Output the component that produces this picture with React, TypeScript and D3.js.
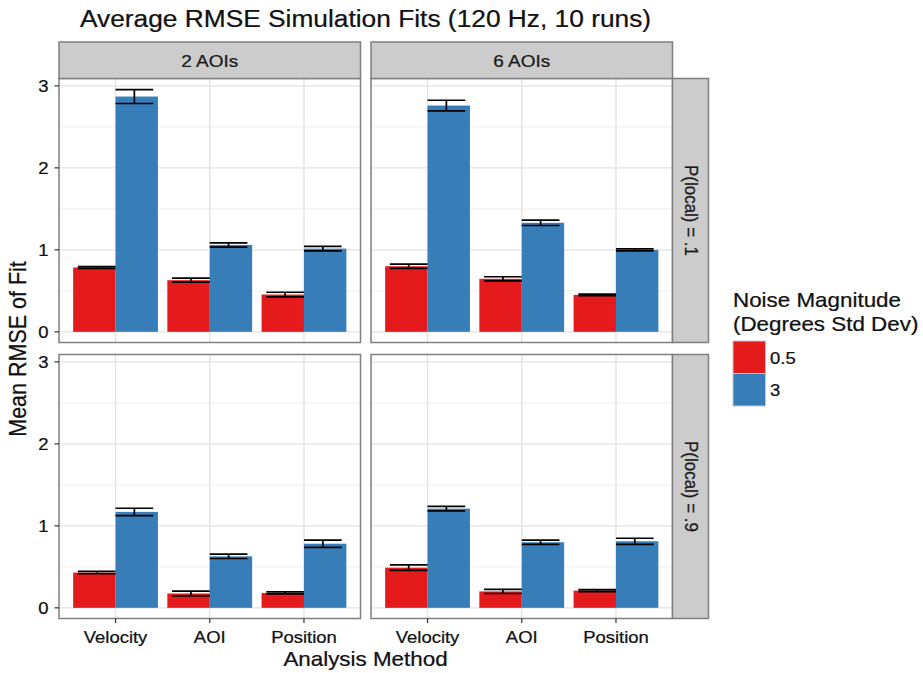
import React, { useEffect, useRef } from 'react';
import * as d3 from 'd3';

// categories / facets
const methods: string[] = ['Velocity', 'AOI', 'Position'];
const noiseLevels: string[] = ['0.5', '3'];
const aoiFacets: string[] = ['2 AOIs', '6 AOIs'];
const pLocalFacets: string[] = ['P(local) = .1', 'P(local) = .9'];
const yTicks: number[] = [0, 1, 2, 3];
const yMinor: number[] = [0.5, 1.5, 2.5];

// mean RMSE, order = methods; "low" = 0.5 deg noise, "high" = 3 deg noise
const p1Aoi2Low = [0.785, 0.63, 0.455];
const p1Aoi2High = [2.87, 1.06, 1.015];
const p1Aoi6Low = [0.8, 0.647, 0.45];
const p1Aoi6High = [2.76, 1.33, 1.0];
const p9Aoi2Low = [0.43, 0.175, 0.182];
const p9Aoi2High = [1.17, 0.628, 0.782];
const p9Aoi6Low = [0.49, 0.2, 0.21];
const p9Aoi6High = [1.21, 0.8, 0.812];

// standard errors (half height of the error bars)
const p1Aoi2LowSe = [0.012, 0.024, 0.028];
const p1Aoi2HighSe = [0.085, 0.026, 0.027];
const p1Aoi6LowSe = [0.027, 0.025, 0.01];
const p1Aoi6HighSe = [0.065, 0.033, 0.012];
const p9Aoi2LowSe = [0.014, 0.028, 0.012];
const p9Aoi2HighSe = [0.045, 0.026, 0.045];
const p9Aoi6LowSe = [0.033, 0.025, 0.013];
const p9Aoi6HighSe = [0.028, 0.025, 0.037];

const colors: string[] = ['#E41A1C', '#377EB8'];
const FONT = '"Liberation Sans", Arial, Helvetica, sans-serif';
const SX = 1.12; // the original picture is a bit wider than tall

const App: React.FC = () => {
  const chartRef = useRef<SVGSVGElement | null>(null);

  useEffect(() => {
    if (!chartRef.current) return;
    document.body.style.margin = '0';

    const svg = d3.select(chartRef.current);
    svg.selectAll('*').remove();
    svg.append('rect').attr('width', 923).attr('height', 673).attr('fill', '#fff');

    const text = (
      x: number,
      y: number,
      str: string,
      size: number,
      anchor = 'middle',
      rot = 0,
      color = '#111'
    ) => {
      const t =
        rot === 0
          ? `translate(${x},${y}) scale(${SX},1)`
          : `translate(${x},${y}) rotate(${rot}) scale(1,${SX})`;
      return svg
        .append('text')
        .attr('transform', t)
        .attr('text-anchor', anchor)
        .attr('font-family', FONT)
        .attr('font-size', size)
        .attr('fill', color)
        .attr('stroke', color)
        .attr('stroke-width', 0.25)
        .text(str);
    };

    const panelLeft = [59, 371];
    const panelW = 301.5;
    const panelTop = [78.5, 354.5];
    const panelH = 264;

    const panels = [
      { row: 0, col: 0, low: p1Aoi2Low, high: p1Aoi2High, lowSe: p1Aoi2LowSe, highSe: p1Aoi2HighSe },
      { row: 0, col: 1, low: p1Aoi6Low, high: p1Aoi6High, lowSe: p1Aoi6LowSe, highSe: p1Aoi6HighSe },
      { row: 1, col: 0, low: p9Aoi2Low, high: p9Aoi2High, lowSe: p9Aoi2LowSe, highSe: p9Aoi2HighSe },
      { row: 1, col: 1, low: p9Aoi6Low, high: p9Aoi6High, lowSe: p9Aoi6LowSe, highSe: p9Aoi6HighSe },
    ];

    panels.forEach((p) => {
      const left = panelLeft[p.col];
      const top = panelTop[p.row];
      const bottom = top + panelH;

      const x = d3
        .scaleBand<string>()
        .domain(methods)
        .range([left, left + panelW])
        .paddingInner(0)
        .paddingOuter(0.1);
      const step = x.step();
      const cx = (m: string) => (x(m) || 0) + x.bandwidth() / 2;
      const fillX = d3.scaleBand<string>().domain(noiseLevels).range([-0.45 * step, 0.45 * step]);
      const errX = d3.scaleBand<string>().domain(noiseLevels).range([-0.4 * step, 0.4 * step]);
      const y = d3.scaleLinear().domain([-0.13, 3.09]).range([bottom, top]);

      const g = svg.append('g');
      g.append('rect').attr('x', left).attr('y', top).attr('width', panelW).attr('height', panelH).attr('fill', '#fff');

      // grid
      g.selectAll('.minor')
        .data(yMinor)
        .enter()
        .append('line')
        .attr('x1', left)
        .attr('x2', left + panelW)
        .attr('y1', (d) => y(d))
        .attr('y2', (d) => y(d))
        .attr('stroke', '#f2f2f2')
        .attr('stroke-width', 1.2);
      g.selectAll('.major')
        .data(yTicks)
        .enter()
        .append('line')
        .attr('x1', left)
        .attr('x2', left + panelW)
        .attr('y1', (d) => y(d))
        .attr('y2', (d) => y(d))
        .attr('stroke', '#e3e3e3')
        .attr('stroke-width', 1.4);
      g.selectAll('.vmajor')
        .data(methods)
        .enter()
        .append('line')
        .attr('x1', (d) => cx(d))
        .attr('x2', (d) => cx(d))
        .attr('y1', top)
        .attr('y2', bottom)
        .attr('stroke', '#e3e3e3')
        .attr('stroke-width', 1.4);

      const rows = methods.flatMap((m, i) => [
        { m, noise: noiseLevels[0], v: p.low[i], se: p.lowSe[i] },
        { m, noise: noiseLevels[1], v: p.high[i], se: p.highSe[i] },
      ]);

      // bars
      g.selectAll('.bar')
        .data(rows)
        .enter()
        .append('rect')
        .attr('x', (d) => cx(d.m) + (fillX(d.noise) || 0))
        .attr('y', (d) => y(d.v))
        .attr('width', fillX.bandwidth())
        .attr('height', (d) => y(0) - y(d.v))
        .attr('fill', (d) => colors[noiseLevels.indexOf(d.noise)]);

      // error bars
      rows.forEach((d) => {
        const x0 = cx(d.m) + (errX(d.noise) || 0);
        const x1 = x0 + errX.bandwidth();
        const xm = (x0 + x1) / 2;
        const yHi = y(d.v + d.se);
        const yLo = y(d.v - d.se);
        const path = `M${x0},${yHi}H${x1}M${x0},${yLo}H${x1}M${xm},${yHi}V${yLo}`;
        g.append('path').attr('d', path).attr('fill', 'none').attr('stroke', '#000').attr('stroke-width', 1.7);
      });

      g.append('rect')
        .attr('x', left)
        .attr('y', top)
        .attr('width', panelW)
        .attr('height', panelH)
        .attr('fill', 'none')
        .attr('stroke', '#7f7f7f')
        .attr('stroke-width', 1.5);

      // y axis on left column
      if (p.col === 0) {
        yTicks.forEach((t) => {
          svg.append('line')
            .attr('x1', left - 4.5)
            .attr('x2', left)
            .attr('y1', y(t))
            .attr('y2', y(t))
            .attr('stroke', '#333')
            .attr('stroke-width', 1.2);
          text(left - 10.5, y(t) + 6, String(t), 16.5, 'end');
        });
      }

      // x axis on bottom row
      if (p.row === 1) {
        methods.forEach((m) => {
          svg.append('line')
            .attr('x1', cx(m))
            .attr('x2', cx(m))
            .attr('y1', bottom)
            .attr('y2', bottom + 4.5)
            .attr('stroke', '#333')
            .attr('stroke-width', 1.2);
          text(cx(m), bottom + 24.5, m, 16.5);
        });
      }

      // top strips
      if (p.row === 0) {
        svg.append('rect')
          .attr('x', left)
          .attr('y', 42)
          .attr('width', panelW)
          .attr('height', top - 42)
          .attr('fill', '#cccccc')
          .attr('stroke', '#7f7f7f')
          .attr('stroke-width', 1.5);
        text(left + panelW / 2, 66.5, aoiFacets[p.col], 17, 'middle', 0, '#1a1a1a');
      }

      // right strips
      if (p.col === 1) {
        const sx = left + panelW;
        svg.append('rect')
          .attr('x', sx)
          .attr('y', top)
          .attr('width', 36)
          .attr('height', panelH)
          .attr('fill', '#cccccc')
          .attr('stroke', '#7f7f7f')
          .attr('stroke-width', 1.5);
        text(sx + 12, top + panelH / 2, pLocalFacets[p.row], 17, 'middle', 90, '#1a1a1a');
      }
    });

    // titles
    text(365.5, 27, 'Average RMSE Simulation Fits (120 Hz, 10 runs)', 23.5);
    text(365.5, 666, 'Analysis Method', 20);
    text(26, 349, 'Mean RMSE of Fit', 21.5, 'middle', -90);

    // legend
    text(733, 306.5, 'Noise Magnitude', 20, 'start');
    text(733, 330.5, '(Degrees Std Dev)', 20, 'start');
    noiseLevels.forEach((n, i) => {
      const ky = 341 + i * 32.5;
      svg.append('rect')
        .attr('x', 733)
        .attr('y', ky)
        .attr('width', 32.5)
        .attr('height', 32.5)
        .attr('fill', colors[i])
        .attr('stroke', '#c8c8c8')
        .attr('stroke-width', 1);
      text(770, ky + 22.5, n, 16.5, 'start');
    });
  }, []);

  return <svg ref={chartRef} width={923} height={673} style={{ display: 'block' }}></svg>;
};

export default App;
